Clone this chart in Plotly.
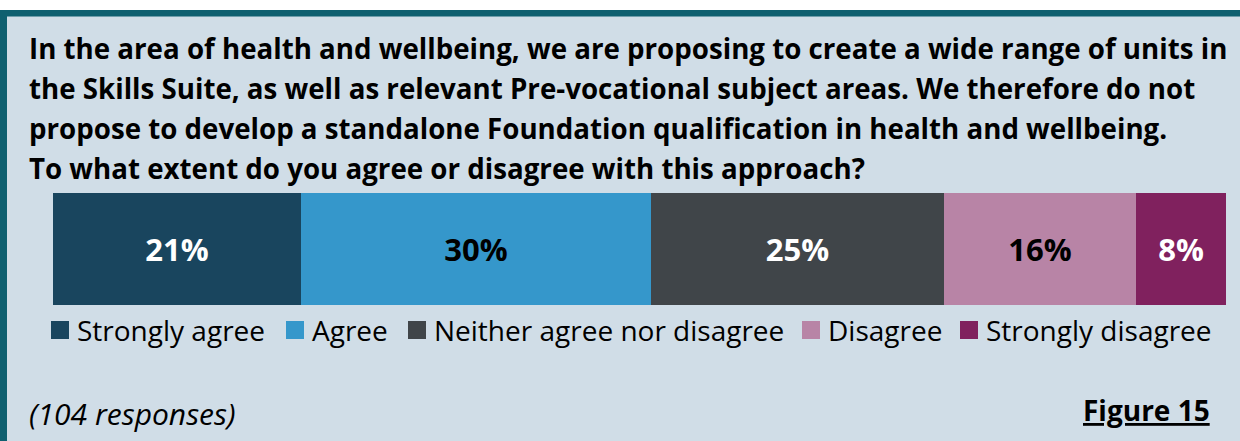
import plotly.graph_objects as go

# ---- data ----
categories = ["Strongly agree", "Agree", "Neither agree nor disagree", "Disagree", "Strongly disagree"]
values = [21.15, 29.81, 25.0, 16.35, 7.69]   # percent of 104 responses
labels = ["21%", "30%", "25%", "16%", "8%"]
colors = ["#19455e", "#3597cb", "#404549", "#b884a6", "#80215e"]
text_colors = ["#ffffff", "#000000", "#ffffff", "#000000", "#ffffff"]

title_lines = [
    "In the area of health and wellbeing, we are proposing to create a wide range of units in",
    "the Skills Suite, as well as relevant Pre-vocational subject areas. We therefore do not",
    "propose to develop a standalone Foundation qualification in health and wellbeing.",
    "To what extent do you agree or disagree with this approach?",
]
note_text = "(104 responses)"
figure_label = "Figure 15"

# ---- layout helpers (pixel -> paper) ----
W, H = 1240, 441
FONT = "Open Sans"
def px(x):
    return x / W
def py(y):
    return 1 - y / H

fig = go.Figure()
for name, v, lab, c, tc in zip(categories, values, labels, colors, text_colors):
    fig.add_trace(go.Bar(
        y=["q"], x=[v], orientation="h", name=name,
        marker=dict(color=c, line=dict(width=0)),
        text=[lab], textposition="inside", insidetextanchor="middle",
        textangle=0, constraintext="none",
        textfont=dict(family=FONT, size=31, color=tc, weight="bold"),
        hoverinfo="skip", showlegend=False,
    ))

shapes = [
    # panel background
    dict(type="rect", xref="paper", yref="paper", x0=0, x1=1, y0=0, y1=py(10),
         fillcolor="#d0dde7", line=dict(width=0), layer="below"),
    # top border
    dict(type="rect", xref="paper", yref="paper", x0=0, x1=1, y0=py(16.5), y1=py(10),
         fillcolor="#0f6070", line=dict(width=0), layer="below"),
    # left border
    dict(type="rect", xref="paper", yref="paper", x0=0, x1=px(7), y0=0, y1=py(10),
         fillcolor="#0f6070", line=dict(width=0), layer="below"),
]

annotations = []
title_y = [48, 88, 128, 168]
for line, yy in zip(title_lines, title_y):
    annotations.append(dict(
        text="<b>" + line + "</b>", xref="paper", yref="paper",
        x=px(27), y=py(yy), xanchor="left", yanchor="middle", showarrow=False,
        font=dict(family=FONT, size=27.7, color="#000000"),
    ))

# legend (manual)
legend_marker_x = [51, 286, 408, 802, 960]
legend_y = 330
for name, c, mx in zip(categories, colors, legend_marker_x):
    shapes.append(dict(type="rect", xref="paper", yref="paper",
                       x0=px(mx), x1=px(mx + 18), y0=py(legend_y + 9), y1=py(legend_y - 9),
                       fillcolor=c, line=dict(width=0)))
    annotations.append(dict(
        text=name, xref="paper", yref="paper", x=px(mx + 24), y=py(legend_y),
        xanchor="left", yanchor="middle", showarrow=False,
        font=dict(family=FONT, size=28, color="#000000"),
    ))

annotations.append(dict(
    text="<i>" + note_text + "</i>", xref="paper", yref="paper", x=px(27), y=py(413),
    xanchor="left", yanchor="middle", showarrow=False,
    font=dict(family=FONT, size=30, color="#000000"),
))
annotations.append(dict(
    text="<b><u>" + figure_label + "</u></b>", xref="paper", yref="paper", x=px(1212), y=py(410),
    xanchor="right", yanchor="middle", showarrow=False,
    font=dict(family=FONT, size=28, color="#000000"),
))

fig.update_layout(
    width=W, height=H,
    margin=dict(l=0, r=0, t=0, b=0),
    paper_bgcolor="#ffffff", plot_bgcolor="rgba(0,0,0,0)",
    barmode="stack", bargap=0,
    xaxis=dict(domain=[px(53), px(1226)], range=[0, sum(values)], visible=False, fixedrange=True),
    yaxis=dict(domain=[py(305), py(193)], range=[-0.5, 0.5], visible=False, fixedrange=True),
    shapes=shapes, annotations=annotations,
    showlegend=False,
    uniformtext=dict(mode=False),
)

fig.write_html("out.html", config=dict(displayModeBar=False))
